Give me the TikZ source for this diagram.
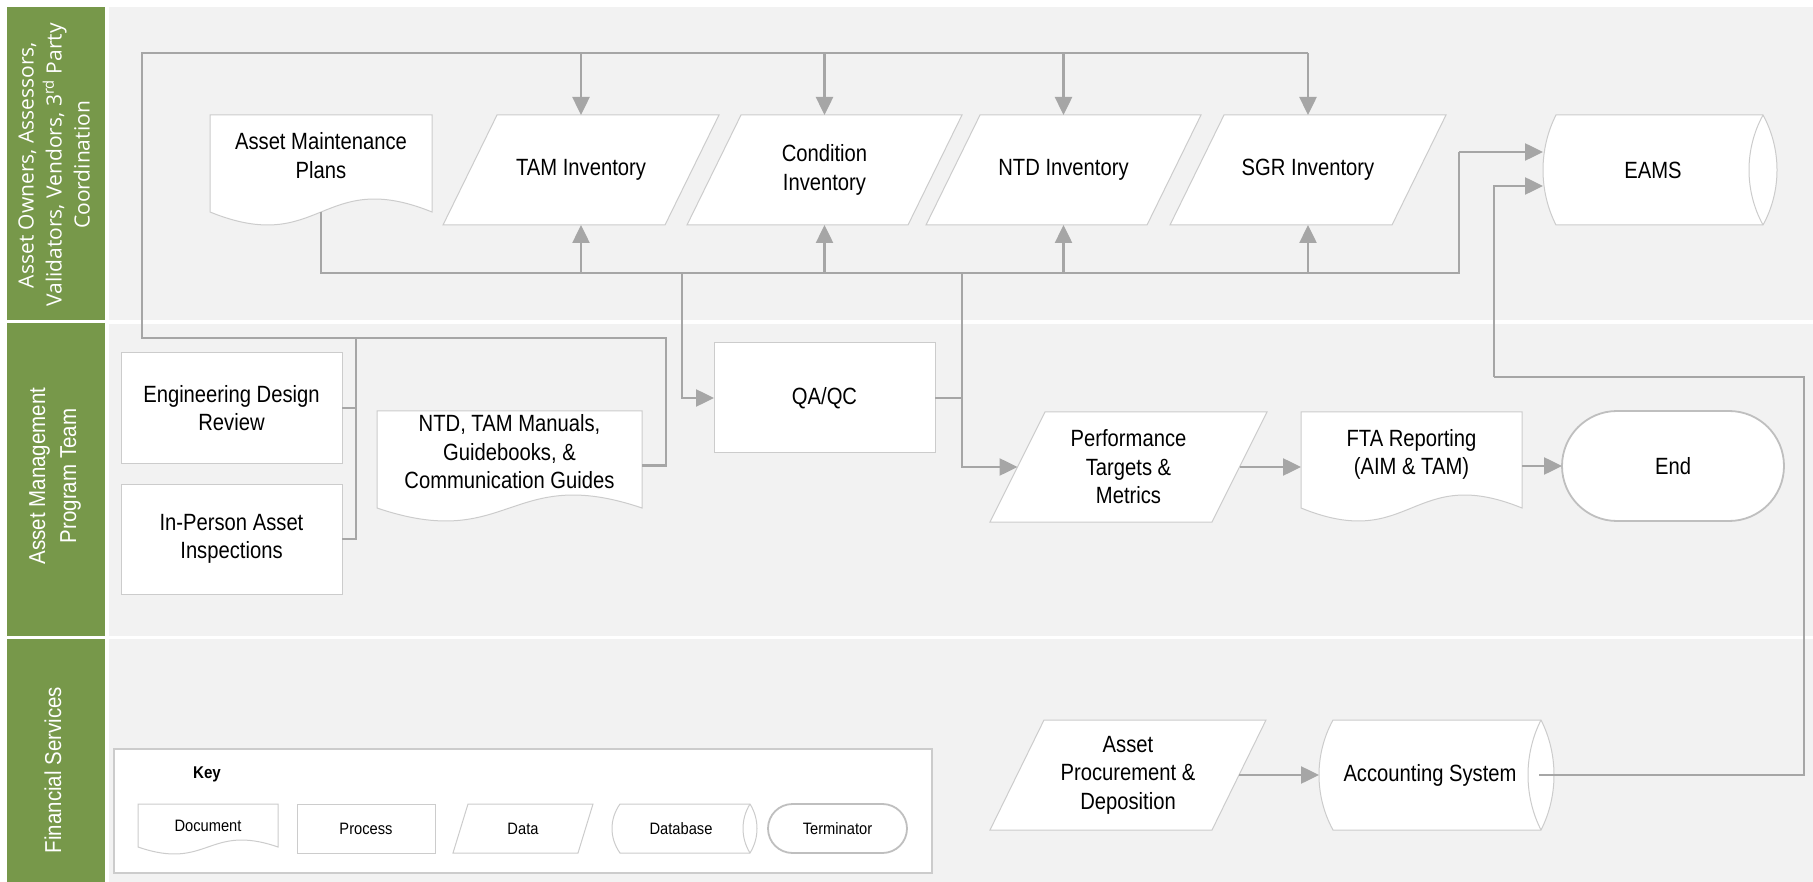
\documentclass[tikz,border=0pt]{standalone}
\usepackage{fontspec}
\setmainfont{Liberation Sans}[FakeStretch=0.89]
\newfontfamily\openfont{Open Sans}
\newfontfamily\narrowfont{Liberation Sans}[FakeStretch=0.86]
\usetikzlibrary{arrows.meta,calc}
\pgfdeclarelayer{bg}\pgfdeclarelayer{shp}\pgfsetlayers{bg,shp,main}
\definecolor{lanegray}{HTML}{F2F2F2}
\definecolor{lanegreen}{HTML}{77984A}
\definecolor{linegray}{HTML}{A6A6A6}
\definecolor{bordergray}{HTML}{CCCCCC}
\definecolor{termgray}{HTML}{BFBFBF}
\newcommand\boxfont{\narrowfont\fontsize{23.5}{28.5}\selectfont}
\newcommand\keyfont{\fontsize{16.5}{20}\selectfont}
\newcommand\lanefont{\fontsize{23}{31}\selectfont}
\newcommand\laneonefont{\openfont\fontsize{21}{28}\selectfont}
\newcommand\dlift{\rule[-16pt]{0pt}{0pt}}
\tikzset{
 box/.style={inner sep=0pt,outer sep=0pt,align=center,font=\boxfont},
 keybox/.style={box,font=\keyfont},
 procbox/.style={box,draw=bordergray,fill=white,line width=1pt},
 keyproc/.style={procbox,font=\keyfont},
 keyframe/.style={inner sep=0pt,outer sep=0pt,draw=bordergray,fill=white,line width=1.5pt},
 shapeline/.style={draw=bordergray,fill=white,line width=1pt},
 termline/.style={draw=termgray,fill=white,line width=1.8pt},
 conn/.style={draw=linegray,line width=2.5pt},
 arr/.style={conn,-{Triangle[length=18pt,width=17pt]}},
 lanelab/.style={rotate=90,text=white,align=center,font=\lanefont,inner sep=0pt}
}
% node by bounding box: style, x1, y1, x2, y2, name, text
\newcommand\bx[7]{\node[#1,minimum width={(#4-#2)*1pt},minimum height={(#5-#3)*1pt}] (#6) at ({(#2+#4)/2},{(#3+#5)/2}) {#7};}
\newcommand\docshape[2]{\begin{pgfonlayer}{shp}\path[shapeline] (#1.north west) -- (#1.north east) -- (#1.south east) .. controls ($(#1.south)+(0,{-3.46*#2})$) and ($(#1.south)+(0,{3.46*#2})$) .. (#1.south west) -- cycle;\end{pgfonlayer}}
\newcommand\datashape[2]{\begin{pgfonlayer}{shp}\path[shapeline] ($(#1.north west)+(#2,0)$) -- (#1.north east) -- ($(#1.south east)+(-#2,0)$) -- (#1.south west) -- cycle;\end{pgfonlayer}}
\newcommand\dbshape[4]{\begin{pgfonlayer}{shp}
\path[shapeline] ($(#1.north west)+(#2,0)$) -- ($(#1.north east)+(-#3,0)$)
 .. controls ($(#1.north east)+({#3/3},#4)$) and ($(#1.south east)+({#3/3},-#4)$) .. ($(#1.south east)+(-#3,0)$)
 -- ($(#1.south west)+(#2,0)$)
 .. controls ($(#1.south west)+({-#2/3},-#4)$) and ($(#1.north west)+({-#2/3},#4)$) .. ($(#1.north west)+(#2,0)$) -- cycle;
\draw[bordergray,line width=1pt] ($(#1.north east)+(-#3,0)$) .. controls ($(#1.north east)+({-#3-4*#3/3},#4)$) and ($(#1.south east)+({-#3-4*#3/3},-#4)$) .. ($(#1.south east)+(-#3,0)$);
\end{pgfonlayer}}
\newcommand\termshape[2]{\begin{pgfonlayer}{shp}\path[termline,rounded corners=#2] (#1.north west) rectangle (#1.south east);\end{pgfonlayer}}
\begin{document}
\begin{tikzpicture}[x=1pt,y=-1pt]
\useasboundingbox (0,0) rectangle (1813,882);
\begin{pgfonlayer}{bg}
\fill[white] (0,0) rectangle (1813,882);
\fill[lanegreen] (7,7) rectangle (105,320);
\fill[lanegray] (109,7) rectangle (1813,320);
\fill[lanegreen] (7,323) rectangle (105,636);
\fill[lanegray] (109,324) rectangle (1813,636);
\fill[lanegreen] (7,639) rectangle (105,882);
\fill[lanegray] (109,639) rectangle (1813,882);
\bx{keyframe}{114}{749}{932}{873}{key}{}
\end{pgfonlayer}
% lane labels
\node[lanelab,font=\laneonefont] (lane1) at (54,165) {Asset Owners, Assessors,\\Validators, Vendors, 3\textsuperscript{rd} Party\\Coordination};
\node[lanelab] (lane2) at (55,476) {Asset Management\\Program Team};
\node[lanelab] (lane3) at (53,770) {Financial Services};
% lane 1
\bx{box}{210}{115}{432}{212}{amp}{Asset Maintenance\\Plans\dlift}
\bx{box}{443}{115}{719}{225}{tam}{TAM Inventory}
\bx{box}{687}{115}{962}{225}{cond}{Condition\\Inventory}
\bx{box}{926}{115}{1201}{225}{ntdinv}{NTD Inventory}
\bx{box}{1170}{115}{1446}{225}{sgr}{SGR Inventory}
\bx{box}{1543}{115}{1777}{225}{eams}{EAMS\hspace{14pt}}
% lane 2
\bx{procbox}{121}{353}{342}{463}{edr}{Engineering Design\\Review}
\bx{procbox}{121}{484}{342}{594}{ipai}{In-Person Asset\\Inspections}
\bx{box}{377}{411}{642}{508}{ntdman}{NTD, TAM Manuals,\\Guidebooks, \&\\Communication Guides\dlift}
\bx{procbox}{714}{343}{935}{453}{qaqc}{QA/QC}
\bx{box}{990}{412}{1267}{522}{perf}{Performance\\Targets \&\\Metrics}
\bx{box}{1301}{412}{1522}{508}{fta}{FTA Reporting\\(AIM \& TAM)\dlift}
\bx{box}{1562}{411}{1784}{521}{endn}{End}
% lane 3
\bx{box}{990}{720}{1266}{830}{proc}{Asset\\Procurement \&\\Deposition}
\bx{box}{1319}{720}{1554}{830}{acct}{Accounting System\hspace{13pt}}
% key
\node[font=\bfseries\fontsize{17}{20}\selectfont,inner sep=0pt] (keylbl) at (207,774) {Key};
\bx{keybox}{138}{804}{278}{847}{keydoc}{Document}
\bx{keyproc}{297}{804}{435}{853}{keyproc}{Process}
\bx{keybox}{453}{804}{593}{853}{keydata}{Data}
\bx{keybox}{612}{804}{757}{853}{keydb}{Database\hspace{7pt}}
\bx{keybox}{768}{804}{907}{853}{keyterm}{Terminator}
% shapes
\docshape{amp}{13}
\docshape{ntdman}{13}
\docshape{fta}{13}
\docshape{keydoc}{7}
\datashape{tam}{54}
\datashape{cond}{54}
\datashape{ntdinv}{54}
\datashape{sgr}{54}
\datashape{perf}{55}
\datashape{proc}{54}
\datashape{keydata}{15}
\dbshape{eams}{13}{14}{34}
\dbshape{acct}{14}{13}{34}
\dbshape{keydb}{8}{7}{15}
\termshape{endn}{55pt}
\termshape{keyterm}{24.5pt}
% junction coordinates
\coordinate (jA) at (356,338);
\coordinate (jN) at (666,338);
\coordinate (cL) at (142,338);
\coordinate (cTL) at (142,53);
\coordinate (jB) at (321,273);
\coordinate (jE) at (1459,273);
\coordinate (jEt) at (1459,152);
\coordinate (jQ) at (682,273);
\coordinate (jP) at (962,273);
\coordinate (cR1) at (1804,775);
\coordinate (cR2) at (1804,377);
\coordinate (cR3) at (1494,377);
% loop from reviews, inspections and manuals to the inventories
\draw[conn] (edr.east) -- (edr.east -| jA);
\draw[conn] (ipai.east) -| (jA);
\draw[conn] ($(ntdman.east)+(0,6)$) -| (jN) -- (cL) -- (cTL) -- (cTL -| sgr.north);
\foreach \n in {tam,cond,ntdinv,sgr} \draw[arr] (cTL -| \n.north) -- (\n.north);
% from asset maintenance plans
\draw[conn] (amp.south) -- (jB) -- (jE) -- (jEt);
\draw[arr] (jEt) -- (jEt -| eams.west);
\foreach \n in {tam,cond,ntdinv,sgr} \draw[arr] (jB -| \n.south) -- (\n.south);
\draw[arr] (jQ) |- (qaqc.west);
% QA/QC to performance
\draw[conn] (qaqc.east) -- (qaqc.east -| jP);
\draw[arr] (jP) |- ($(perf.west)+(27.5,0)$);
\draw[arr] ($(perf.east)+(-27.5,0)$) -- (perf.east -| fta.west);
\draw[arr] (fta.east |- endn.west) -- (endn.west);
% financial services
\draw[arr] ($(proc.east)+(-27,0)$) -- (acct.west);
\draw[conn] ($(acct.east)+(-15,0)$) -- (cR1) -- (cR2) -- (cR3);
\draw[arr] (cR3) |- ($(eams.west)+(0,16)$);
\end{tikzpicture}
\end{document}
